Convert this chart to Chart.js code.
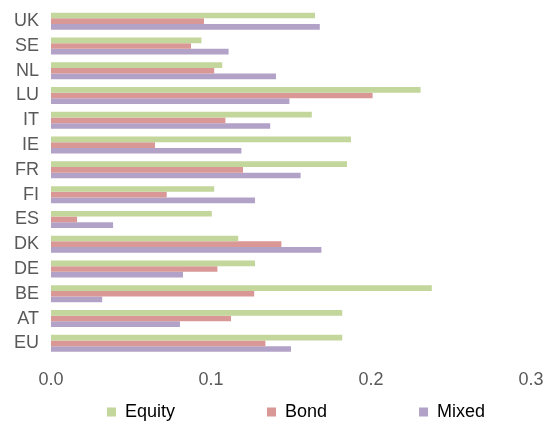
<!DOCTYPE html>
<html>
<head>
<meta charset="utf-8">
<script src="https://cdn.jsdelivr.net/npm/chart.js@4"></script>
<style>
  body { margin: 0; background: #fff; }
</style>
</head>
<body>
<canvas id="fundChart" width="547" height="425"></canvas>
<script>
const countries = ['UK', 'SE', 'NL', 'LU', 'IT', 'IE', 'FR', 'FI', 'ES', 'DK', 'DE', 'BE', 'AT', 'EU'];
const equity = [0.165, 0.094, 0.107, 0.231, 0.163, 0.1875, 0.185, 0.102, 0.1005, 0.117, 0.1275, 0.238, 0.182, 0.182];
const bond = [0.0956, 0.0875, 0.102, 0.201, 0.109, 0.065, 0.12, 0.0723, 0.0163, 0.144, 0.104, 0.127, 0.1125, 0.134];
const mixed = [0.168, 0.111, 0.1406, 0.149, 0.137, 0.119, 0.156, 0.1275, 0.0388, 0.169, 0.0825, 0.032, 0.0806, 0.15];
const seriesNames = ['Equity', 'Bond', 'Mixed'];
const xTicks = [0, 0.1, 0.2, 0.3];

const colors = ['#c3d69b', '#d99795', '#b3a2c7'];
const textColor = '#595959';
const font = { family: '"Liberation Sans", Arial, sans-serif', size: 18 };

// trailing spaces widen the legend items so they spread like the original
const pad = ' '.repeat(16);

// legend: fixed height, and nudged so its centre sits where the original has it
const legendTweaks = {
    id: 'legendTweaks',
    beforeLayout(chart) {
        const legend = chart.legend;
        if (legend && !legend._patched) {
            const fit = legend.fit;
            legend.fit = function () {
                fit.call(this);
                this.height = 34;
            };
            legend._patched = true;
        }
    },
    afterLayout(chart) {
        const legend = chart.legend;
        const shift = 296 - (legend.left + legend.right) / 2;
        legend.left += shift;
        legend.right += shift;
    }
};

new Chart(document.getElementById('fundChart'), {
    type: 'bar',
    data: {
        labels: countries,
        datasets: [equity, bond, mixed].map((values, i) => ({
            label: seriesNames[i],
            data: values,
            backgroundColor: colors[i],
            borderWidth: 0,
            categoryPercentage: 0.686,
            barPercentage: 1
        }))
    },
    options: {
        indexAxis: 'y',
        responsive: false,
        animation: false,
        layout: { padding: { left: 0, right: 0, top: 8.8, bottom: 0 } },
        scales: {
            x: {
                min: xTicks[0],
                max: xTicks[xTicks.length - 1],
                grid: { display: false, drawTicks: false },
                border: { display: false },
                afterBuildTicks(scale) {
                    scale.ticks = xTicks.map(v => ({ value: v }));
                },
                afterFit(scale) {
                    scale.paddingRight = 16;
                    scale.height = 35.3;
                },
                ticks: {
                    padding: 13.5,
                    color: textColor,
                    font: font,
                    maxRotation: 0,
                    callback: v => Number(v).toFixed(1)
                }
            },
            y: {
                grid: { display: false, drawTicks: false },
                border: { display: false },
                afterFit(scale) {
                    scale.width = 51;
                    scale.paddingTop = 0;
                    scale.paddingBottom = 0;
                },
                ticks: { padding: 12, color: textColor, font: font }
            }
        },
        plugins: {
            legend: {
                position: 'bottom',
                labels: {
                    boxWidth: 9,
                    boxHeight: 9,
                    padding: 12,
                    color: textColor,
                    font: font,
                    generateLabels(chart) {
                        return chart.data.datasets.map((ds, i) => ({
                            text: i < chart.data.datasets.length - 1 ? ds.label + pad : ds.label,
                            fillStyle: ds.backgroundColor,
                            strokeStyle: ds.backgroundColor,
                            lineWidth: 0,
                            hidden: !chart.isDatasetVisible(i),
                            datasetIndex: i
                        }));
                    }
                }
            },
            tooltip: { enabled: false }
        }
    },
    plugins: [legendTweaks]
});
</script>
</body>
</html>
